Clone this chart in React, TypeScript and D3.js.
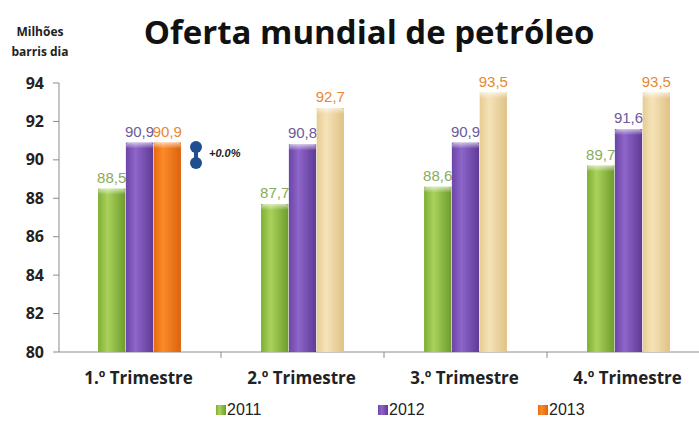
import React from "react";
import * as d3 from "d3";

const quarters = ["1.º Trimestre", "2.º Trimestre", "3.º Trimestre", "4.º Trimestre"];
const years = ["2011", "2012", "2013"];
const values2011 = [88.5, 87.7, 88.6, 89.7];
const values2012 = [90.9, 90.8, 90.9, 91.6];
const values2013 = [90.9, 92.7, 93.5, 93.5];
const yTicks = [80, 82, 84, 86, 88, 90, 92, 94];

const W = 699;
const H = 421;

const fmt = (v: number) => v.toFixed(1).replace(".", ",");

export default function App() {
  const x = d3.scaleBand<string>().domain(quarters).range([58, 710]).padding(0);
  const sub = d3.scaleBand<string>().domain(years).range([0, 84]).padding(0.02);
  const y = d3.scaleLinear().domain([80, 94]).range([352, 83]);
  const off = (x.bandwidth() - 84) / 2;

  const series = [values2011, values2012, values2013];
  const labelColors = ["#8aab5c", "#6b5a9c", "#e8892f"];
  const fills = ["url(#gGreen)", "url(#gPurple)", "url(#gOrange)"];

  return (
    <svg width={W} height={H} style={{ position: "absolute", left: 0, top: 0 }}>
      <defs>
        <linearGradient id="gGreen" x1="0" x2="1" y1="0" y2="0">
          <stop offset="0" stopColor="#7fae33" />
          <stop offset="0.35" stopColor="#a9d25c" />
          <stop offset="1" stopColor="#6e9c2b" />
        </linearGradient>
        <linearGradient id="gPurple" x1="0" x2="1" y1="0" y2="0">
          <stop offset="0" stopColor="#6c45a8" />
          <stop offset="0.35" stopColor="#8e65c9" />
          <stop offset="1" stopColor="#5f3a96" />
        </linearGradient>
        <linearGradient id="gOrange" x1="0" x2="1" y1="0" y2="0">
          <stop offset="0" stopColor="#e8680d" />
          <stop offset="0.35" stopColor="#fb8a2a" />
          <stop offset="1" stopColor="#de620c" />
        </linearGradient>
        <linearGradient id="gBeige" x1="0" x2="1" y1="0" y2="0">
          <stop offset="0" stopColor="#e6cc92" />
          <stop offset="0.35" stopColor="#f5e3b8" />
          <stop offset="1" stopColor="#dfc286" />
        </linearGradient>
        <linearGradient id="gTop" x1="0" x2="0" y1="0" y2="1">
          <stop offset="0" stopColor="#ffffff" stopOpacity="0.6" />
          <stop offset="1" stopColor="#ffffff" stopOpacity="0" />
        </linearGradient>
      </defs>
      <rect width={W} height={H} fill="#ffffff" />

      <text x={369} y={44} textAnchor="middle" fontFamily="Open Sans" fontWeight="bold" fontSize={33} fill="#111">
        Oferta mundial de petróleo
      </text>
      <text x={40} y={36} textAnchor="middle" fontFamily="Open Sans" fontWeight="bold" fontSize={12} fill="#222">Milhões</text>
      <text x={40} y={56} textAnchor="middle" fontFamily="Open Sans" fontWeight="bold" fontSize={12} fill="#222">barris dia</text>

      {/* y axis */}
      <line x1={59} x2={59} y1={y(94)} y2={y(80)} stroke="#8c8c8c" />
      {yTicks.map((t) => (
        <g key={t}>
          <line x1={53} x2={59} y1={y(t)} y2={y(t)} stroke="#8c8c8c" />
          <text x={44} y={y(t)} dy="0.35em" textAnchor="end" fontFamily="Open Sans" fontWeight="bold" fontSize={16} fill="#222">
            {t}
          </text>
        </g>
      ))}

      {/* x axis */}
      <line x1={59} x2={W} y1={y(80)} y2={y(80)} stroke="#8c8c8c" />
      {quarters.map((q, i) => (
        <g key={q}>
          {i > 0 && <line x1={x(q)!} x2={x(q)!} y1={y(80)} y2={y(80) + 6} stroke="#8c8c8c" />}
          <text x={x(q)! + x.bandwidth() / 2 - 1} y={384} textAnchor="middle" fontFamily="Open Sans" fontWeight="bold" fontSize={17} fill="#222">
            {q}
          </text>
        </g>
      ))}

      {/* bars */}
      {quarters.map((q, qi) =>
        series.map((vals, si) => {
          const bx = x(q)! + off + sub(years[si])!;
          const bw = sub.bandwidth();
          const by = y(vals[qi]);
          const fill = si === 2 && qi > 0 ? "url(#gBeige)" : fills[si];
          return (
            <g key={q + si}>
              <rect x={bx} y={by} width={bw} height={y(80) - by} fill={fill} />
              <rect x={bx} y={by} width={bw} height={6} rx={3} fill="url(#gTop)" />
              <text x={bx + bw / 2} y={by - 6} textAnchor="middle" fontFamily="Liberation Sans" fontSize={15} fill={labelColors[si]}>
                {fmt(vals[qi])}
              </text>
            </g>
          );
        })
      )}

      {/* change marker */}
      <g>
        <rect x={194} y={147} width={4} height={16} fill="#1f4f8f" />
        <circle cx={196} cy={147} r={6} fill="#1f4f8f" />
        <circle cx={196} cy={163} r={6} fill="#1f4f8f" />
        <text x={209} y={157} fontFamily="Liberation Sans" fontStyle="italic" fontWeight="bold" fontSize={11} fill="#222">+0.0%</text>
      </g>

      {/* legend */}
      {years.map((yr, i) => {
        const lx = [216, 378, 538][i];
        return (
          <g key={yr}>
            <rect x={lx} y={405} width={10} height={10} fill={fills[i]} />
            <text x={lx + 11} y={415} fontFamily="Liberation Sans" fontSize={16} fill="#222">{yr}</text>
          </g>
        );
      })}
    </svg>
  );
}
